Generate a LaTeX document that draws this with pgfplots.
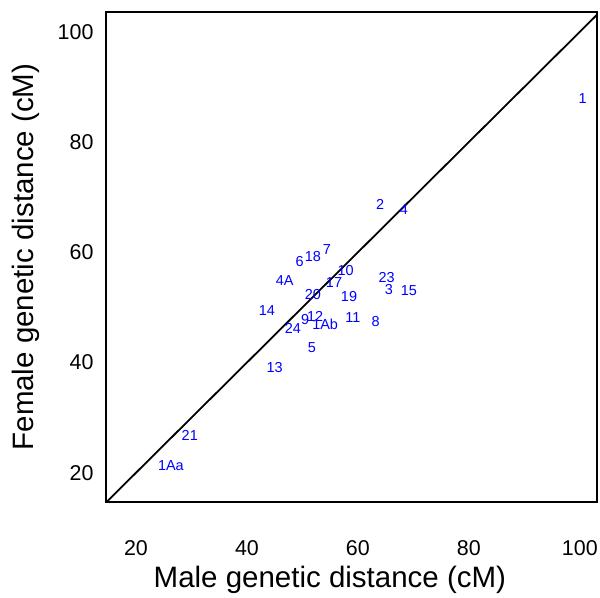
\documentclass[border=0pt]{standalone}
\usepackage{pgfplots}
\pgfplotsset{compat=1.18}
\usepackage{fontspec}
\setmainfont{Liberation Sans}
\begin{document}
\begin{tikzpicture}
\useasboundingbox (-106bp,-96bp) rectangle (494bp,502bp);
\begin{axis}[
  at={(0,0)}, anchor=south west,
  scale only axis,
  width=491bp, height=490bp,
  xmin=14.6, xmax=103.1, ymin=14.7, ymax=103.6,
  axis line style={line width=1.8bp},
  xtick={20,40,60,80,100}, ytick={20,40,60,80,100},
  major tick length=0pt,
  /pgf/number format/assume math mode=true,
  tick label style={font=\fontsize{21.5}{25}\selectfont},
  xticklabel style={anchor=center, yshift=-46bp},
  yticklabel style={anchor=east, xshift=-9bp},
  xlabel={Male genetic distance (cM)},
  ylabel={Female genetic distance (cM)},
  label style={font=\fontsize{29.6}{34}\selectfont},
  xlabel style={at={(axis description cs:0.456,-0.159)}, anchor=center},
  ylabel style={at={(axis description cs:-0.163,0.5)}, anchor=center, rotate=0},
  clip=true,
]
\addplot[black, line width=1.8bp] coordinates {(10,10) (110,110)};
\addplot[only marks, mark=none, nodes near coords, point meta=explicit symbolic,
  every node near coord/.append style={anchor=center, text={rgb,255:red,0;green,0;blue,255}, font=\fontsize{14.5}{17}\selectfont, inner sep=0pt}]
  table[meta=label] {
x y label
26.3 21.3 1Aa
29.7 26.7 21
45.0 39.1 13
43.6 49.4 14
48.3 46.1 24
50.5 47.8 9
52.3 48.3 12
54.1 46.9 1Ab
51.7 42.7 5
51.9 52.3 20
46.8 54.8 4A
49.5 58.3 6
51.9 59.2 18
54.4 60.5 7
57.8 56.7 10
55.7 54.5 17
58.4 51.9 19
59.1 48.1 11
63.2 47.4 8
65.2 55.4 23
65.6 53.2 3
69.2 53.0 15
64.0 68.6 2
68.3 67.7 4
100.5 87.9 1
};
\end{axis}
\end{tikzpicture}
\end{document}
